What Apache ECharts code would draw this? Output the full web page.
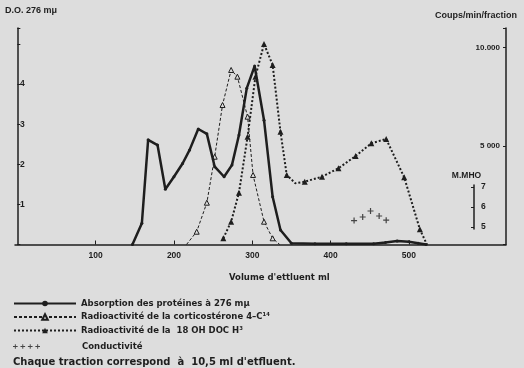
<!DOCTYPE html>
<html>
<head>
<meta charset="utf-8">
<script src="https://cdn.jsdelivr.net/npm/echarts@6/dist/echarts.min.js"></script>
<style>
  html, body { margin: 0; padding: 0; background: #dddddd; }
  #chart { width: 524px; height: 368px; }
</style>
</head>
<body>
<div id="chart"></div>
<script>
// Absorption des protéines (D.O. 276 mμ)
var proteinVol = [147, 159, 167, 179, 189, 200, 211, 220, 231, 242, 252, 264, 274, 283, 293, 303, 315, 326, 336, 350, 380, 420, 455, 470, 485, 500, 512, 522];
var proteinOD = [0, 0.53, 2.61, 2.48, 1.38, 1.69, 2.02, 2.36, 2.88, 2.76, 1.94, 1.69, 1.98, 2.73, 3.90, 4.45, 3.10, 1.19, 0.36, 0.03, 0.02, 0.02, 0.02, 0.05, 0.09, 0.07, 0.03, 0];

// Radioactivité corticostérone 4-C14 (coups/min/fraction)
var corticoVol = [216, 229, 242, 252, 262, 273, 281, 294, 301, 315, 326, 335];
var corticoCpm = [0, 650, 2124, 4461, 7088, 8867, 8526, 6494, 3532, 1159, 315, 0];

// Radioactivité 18 OH DOC H3 (coups/min/fraction)
var docVol = [263, 273, 283, 294, 304, 315, 326, 336, 344, 355, 367, 389, 410, 432, 452, 471, 494, 514, 523];
var docCpm = [315, 1159, 2632, 5478, 8526, 10188, 9121, 5732, 3532, 3110, 3191, 3445, 3872, 4497, 5142, 5361, 3415, 772, 0];

// Conductivité (M.MHO)
var condVol = [430, 441, 451, 462, 471];
var condMmho = [5.32, 5.5, 5.8, 5.55, 5.34];

var xTicks = [100, 200, 300, 400, 500];
var mmhoTicks = [5, 6, 7];

function zip(a, b) {
    return a.map(function (v, i) { return [v, b[i]]; });
}

var ink = '#1e1e1e';
var bg = '#dddddd';
var font = 'Liberation Sans';
var wideFont = 'DejaVu Sans';
var plusPath = 'path://M4,0H6V4H10V6H6V10H4V6H0V4H4Z';
var plusRow = 'path://M4,0H6V4H10V6H6V10H4V6H0V4H4Z M20,0H22V4H26V6H22V10H20V6H16V4H20Z M36,0H38V4H42V6H38V10H36V6H32V4H36Z M52,0H54V4H58V6H54V10H52V6H48V4H52Z';

var docData = zip(docVol, docCpm).map(function (p, i) {
    // pas de triangle au creux ni en fin de courbe
    if (i === 9 || i === docVol.length - 1) return { value: p, symbol: 'none' };
    return p;
});
var corticoData = zip(corticoVol, corticoCpm).map(function (p, i) {
    if (i === 0 || i === corticoVol.length - 1) return { value: p, symbol: 'none' };
    return p;
});

var myChart = echarts.init(document.getElementById('chart'));

var legendText = { fontFamily: wideFont, fontSize: 8.5, fontWeight: 'bold', color: ink };

var option = {
    backgroundColor: bg,
    animation: false,
    textStyle: { fontFamily: font, color: ink },
    title: [
        { text: 'D.O. 276 mμ', left: 0, top: 1, textStyle: { fontSize: 9, fontWeight: 'bold', color: ink } },
        { text: 'Coups/min/fraction', right: 2, top: 6, textStyle: { fontSize: 9, fontWeight: 'bold', color: ink } },
        { text: "Volume d'ettluent ml", left: 224, top: 268, textStyle: legendText },
        { text: "Chaque traction correspond  à  10,5 ml d'etfluent.", left: 8, top: 352, textStyle: { fontFamily: wideFont, fontSize: 10, fontWeight: 'bold', color: ink } }
    ],
    legend: [
        {
            orient: 'vertical',
            left: 8,
            top: 294,
            itemWidth: 62,
            itemHeight: 7,
            itemGap: 4.5,
            textStyle: legendText,
            data: ['Absorption des protéines à 276 mμ', 'Radioactivité de la corticostérone 4–C¹⁴', 'Radioactivité de la  18 OH DOC H³']
        },
        {
            left: 8,
            top: 337,
            itemWidth: 27,
            itemHeight: 5,
            textStyle: Object.assign({ padding: [0, 0, 0, 37] }, legendText),
            data: [{ name: 'Conductivité', icon: plusRow }]
        }
    ],
    grid: [
        { left: 15, right: 18, top: 28, bottom: 123.5 },
        { left: 474, width: 1, top: 185, height: 44 }
    ],
    xAxis: [
        {
            gridIndex: 0,
            type: 'value',
            min: -3,
            max: 624,
            axisLine: { lineStyle: { color: ink, width: 1.5 } },
            axisTick: { inside: true, length: 4, customValues: xTicks, lineStyle: { color: ink } },
            axisLabel: { customValues: xTicks, margin: 7, fontSize: 8.5, fontWeight: 'bold', color: ink },
            splitLine: { show: false }
        },
        { gridIndex: 1, type: 'value', show: false }
    ],
    yAxis: [
        {
            gridIndex: 0,
            type: 'value',
            position: 'left',
            min: 0,
            max: 5.4,
            interval: 1,
            axisLine: { show: true, lineStyle: { color: ink, width: 1.5 } },
            axisTick: { show: true, inside: true, length: 3, lineStyle: { color: ink } },
            axisLabel: {
                inside: true, margin: 5, fontSize: 8.5, fontWeight: 'bold', color: ink,
                formatter: function (v) { return (v >= 1 && v <= 4) ? v : ''; }
            },
            splitLine: { show: false }
        },
        {
            gridIndex: 0,
            type: 'value',
            position: 'right',
            min: 0,
            max: 11000,
            interval: 5000,
            axisLine: { show: true, lineStyle: { color: ink, width: 1.5 } },
            axisTick: { show: true, inside: true, length: 3, lineStyle: { color: ink } },
            axisLabel: {
                inside: true, margin: 6, fontSize: 8, fontWeight: 'bold', color: ink,
                formatter: function (v) { return v === 10000 ? '10.000' : (v === 5000 ? '5 000' : ''); }
            },
            splitLine: { show: false }
        },
        {
            gridIndex: 0,
            type: 'value',
            min: 4.125,
            max: 14.95,
            show: false
        },
        {
            gridIndex: 1,
            type: 'value',
            position: 'right',
            min: 4.9,
            max: 7.1,
            name: 'M.MHO',
            nameLocation: 'end',
            nameGap: 5,
            nameTextStyle: { fontSize: 8.5, fontWeight: 'bold', color: ink, align: 'center', padding: [0, 15, 0, 0] },
            axisLine: { show: true, lineStyle: { color: ink, width: 1.5 } },
            axisTick: { show: true, inside: true, length: 3, customValues: mmhoTicks, lineStyle: { color: ink } },
            axisLabel: { customValues: mmhoTicks, margin: 6, fontSize: 8.5, fontWeight: 'bold', color: ink },
            splitLine: { show: false }
        }
    ],
    series: [
        {
            name: 'Absorption des protéines à 276 mμ',
            type: 'line',
            xAxisIndex: 0,
            yAxisIndex: 0,
            data: zip(proteinVol, proteinOD),
            symbol: 'circle',
            symbolSize: 3,
            showSymbol: true,
            itemStyle: { color: ink },
            lineStyle: { color: ink, width: 2.5 },
            z: 4
        },
        {
            name: 'Radioactivité de la corticostérone 4–C¹⁴',
            type: 'line',
            xAxisIndex: 0,
            yAxisIndex: 1,
            data: corticoData,
            symbol: 'triangle',
            symbolSize: 5,
            itemStyle: { color: bg, borderColor: ink, borderWidth: 1 },
            lineStyle: { color: ink, width: 1, type: [3, 2] },
            z: 3
        },
        {
            name: 'Radioactivité de la  18 OH DOC H³',
            type: 'line',
            xAxisIndex: 0,
            yAxisIndex: 1,
            data: docData,
            symbol: 'triangle',
            symbolSize: 6,
            itemStyle: { color: ink },
            lineStyle: { color: ink, width: 2, type: [2, 2] },
            z: 3
        },
        {
            name: 'Conductivité',
            type: 'scatter',
            xAxisIndex: 0,
            yAxisIndex: 2,
            data: zip(condVol, condMmho),
            symbol: plusPath,
            symbolSize: 6,
            itemStyle: { color: ink }
        }
    ]
};

myChart.setOption(option);
</script>
</body>
</html>
